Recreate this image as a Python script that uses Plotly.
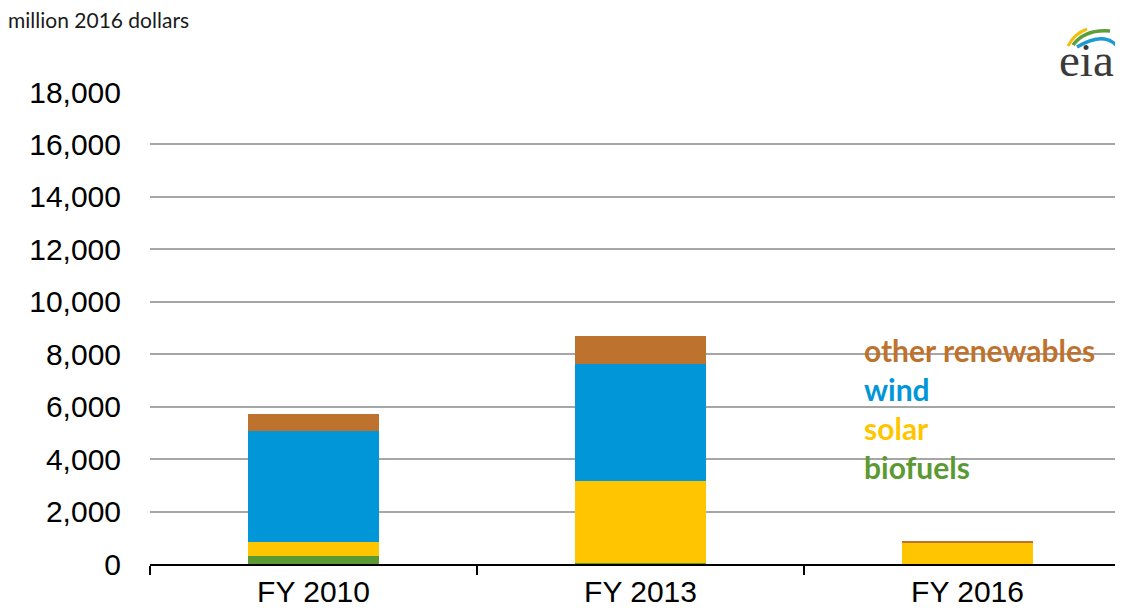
import plotly.graph_objects as go

categories = ["FY 2010", "FY 2013", "FY 2016"]
biofuels = [320, 50, 0]
solar = [510, 3100, 805]
wind = [4240, 4460, 0]
other_renewables = [650, 1080, 85]

series_names = ["biofuels", "solar", "wind", "other renewables"]
series_values = [biofuels, solar, wind, other_renewables]
colors = ["#5B9A32", "#FFC600", "#0096D8", "#BD732D"]

y_ticks = list(range(0, 18001, 2000))

# page has 8px body margin; figure sized to fit inside the window
OFF = 8
W, H = 1107, 599
L, R, T, B = 142, 0, 84, 43

fig = go.Figure()
for name, vals, col in zip(series_names, series_values, colors):
    fig.add_trace(go.Bar(x=categories, y=vals, name=name, marker=dict(color=col, line=dict(width=0)),
                         showlegend=False))

def px(sx):
    return (sx - OFF - L) / (W - L - R)

def py(sy):
    return (H - B - (sy - OFF)) / (H - T - B)

anns = []
label_y = [467, 428, 389, 350]
for name, col, yy in zip(series_names, colors, label_y):
    anns.append(dict(x=px(862), y=py(yy), xref="paper", yref="paper", xanchor="left", yanchor="middle",
                     text="<b>%s</b>" % name, showarrow=False,
                     font=dict(family="Lato, Open Sans, sans-serif", size=30, color=col)))
anns.append(dict(x=px(6), y=py(20), xref="paper", yref="paper", xanchor="left", yanchor="middle",
                 text="million 2016 dollars", showarrow=False,
                 font=dict(family="Lato, Open Sans, sans-serif", size=21, color="#1a1a1a")))
anns.append(dict(x=px(1086), y=py(60), xref="paper", yref="paper", xanchor="center", yanchor="middle",
                 text="eia", showarrow=False,
                 font=dict(family="Liberation Serif, DejaVu Serif, serif", size=47, color="#3a3a3a")))

shapes = []
def arc(p0, c, p1, col, w):
    return dict(type="path", xref="paper", yref="paper",
                path="M %f,%f Q %f,%f %f,%f" % (px(p0[0]), py(p0[1]), px(c[0]), py(c[1]), px(p1[0]), py(p1[1])),
                line=dict(color=col, width=w))
shapes.append(arc((1068, 46), (1074, 34), (1087, 29), "#F2C10F", 3))
shapes.append(arc((1073, 45), (1085, 29), (1110, 31), "#5E9E3A", 3.5))
shapes.append(arc((1077, 47), (1110, 28), (1121, 53), "#1B9AD6", 3.5))

fig.update_layout(
    width=W, height=H,
    margin=dict(l=L, r=R, t=T, b=B, autoexpand=False),
    plot_bgcolor="white", paper_bgcolor="white",
    barmode="stack", bargap=0.6,
    annotations=anns, shapes=shapes,
    xaxis=dict(range=[-0.5, 2.451], tickson="boundaries", ticks="outside", ticklen=9, tickwidth=2,
               tickcolor="black", showline=True, linecolor="black", linewidth=2, showgrid=False,
               automargin=False,
               tickfont=dict(family="Liberation Sans, Arial, sans-serif", size=30, color="black")),
    yaxis=dict(range=[0, 18000], tickvals=y_ticks, tickformat=",d", showgrid=True, gridcolor="#A6A6A6",
               gridwidth=1.5, zeroline=False, showline=False, ticks="", ticklabelstandoff=28,
               automargin=False,
               tickfont=dict(family="Liberation Sans, Arial, sans-serif", size=30, color="black")),
)

fig.write_html("out.html")
